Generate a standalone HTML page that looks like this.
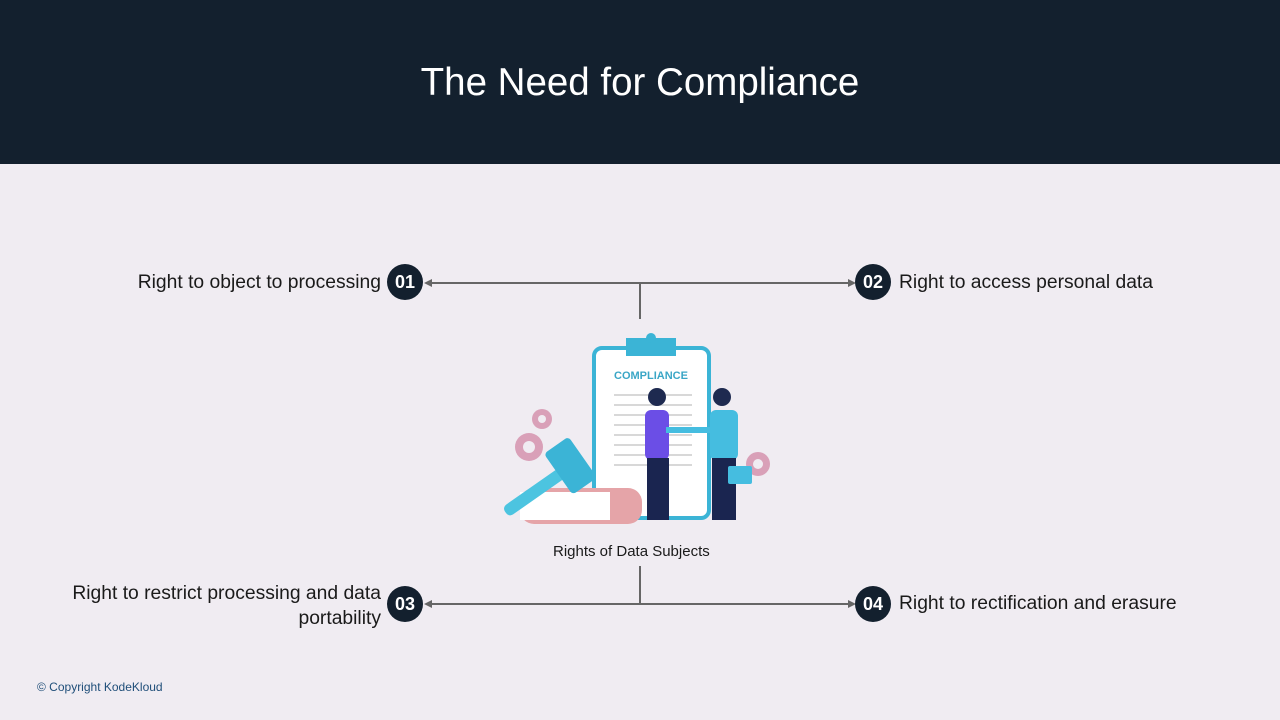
<!DOCTYPE html>
<html><head><meta charset="utf-8"><style>
body{margin:0;width:1280px;height:720px;background:#f0ecf2;font-family:"Liberation Sans",sans-serif;position:relative;overflow:hidden}
.hdr{position:absolute;left:0;top:0;width:1280px;height:164px;background:#13202e}
.hdr h1{margin:0;position:absolute;top:61px;width:100%;text-align:center;color:#fff;font-weight:normal;font-size:38.5px}
.t{position:absolute;font-size:19.3px;color:#1a1a1a}
.c{position:absolute;width:36px;height:36px;border-radius:50%;background:#13202e;color:#fff;font-weight:bold;font-size:18px;text-align:center;line-height:36px}
</style></head><body>
<div class="hdr"><h1>The Need for Compliance</h1></div>
<svg width="1280" height="720" style="position:absolute;left:0;top:0">
<g stroke="#666" stroke-width="2" fill="none">
<line x1="428" y1="283" x2="852" y2="283"/><line x1="640" y1="283" x2="640" y2="319"/>
<line x1="428" y1="604" x2="852" y2="604"/><line x1="640" y1="566" x2="640" y2="604"/>
</g>
<g fill="#666">
<polygon points="424,283 432,279 432,287"/><polygon points="856,283 848,279 848,287"/>
<polygon points="424,604 432,600 432,608"/><polygon points="856,604 848,600 848,608"/>
</g>
<rect x="594" y="348" width="115" height="170" rx="8" fill="#fff" stroke="#3bb4d6" stroke-width="4"/>
<rect x="626" y="338" width="50" height="18" fill="#3bb4d6"/>
<circle cx="651" cy="338" r="5" fill="#3bb4d6"/>
<text x="651" y="379" text-anchor="middle" font-family="Liberation Sans" font-weight="bold" font-size="11" fill="#3aa6c6">COMPLIANCE</text>
<g stroke="#ccc" stroke-width="1.5"><line x1="614" y1="395" x2="692" y2="395"/><line x1="614" y1="405" x2="692" y2="405"/><line x1="614" y1="415" x2="692" y2="415"/><line x1="614" y1="425" x2="692" y2="425"/><line x1="614" y1="435" x2="692" y2="435"/><line x1="614" y1="445" x2="692" y2="445"/><line x1="614" y1="455" x2="692" y2="455"/><line x1="614" y1="465" x2="692" y2="465"/></g>
<rect x="520" y="488" width="122" height="36" rx="14" fill="#e5a4a8"/>
<rect x="520" y="492" width="90" height="28" fill="#fff"/>
<g transform="rotate(-35 550 480)"><rect x="495" y="475" width="90" height="12" rx="5" fill="#4cc4e0"/><rect x="560" y="455" width="30" height="50" rx="4" fill="#3bb4d6"/></g>
<g fill="#d9a0b8"><circle cx="542" cy="419" r="10"/><circle cx="529" cy="447" r="14"/><circle cx="758" cy="464" r="12"/></g>
<g fill="#f0ecf2"><circle cx="542" cy="419" r="4"/><circle cx="529" cy="447" r="6"/><circle cx="758" cy="464" r="5"/></g>
<circle cx="657" cy="397" r="9" fill="#1e2a50"/><rect x="645" y="410" width="24" height="50" rx="6" fill="#6b4ee6"/>
<rect x="647" y="458" width="22" height="62" fill="#1a2550"/>
<circle cx="722" cy="397" r="9" fill="#1e2a50"/><rect x="710" y="410" width="28" height="50" rx="6" fill="#45bde0"/>
<rect x="712" y="458" width="24" height="62" fill="#1a2550"/>
<rect x="728" y="466" width="24" height="18" rx="2" fill="#45bde0"/>
<line x1="666" y1="430" x2="712" y2="430" stroke="#45bde0" stroke-width="6"/>
</svg>
<div class="t" style="right:899px;top:272px">Right to object to processing</div>
<div class="c" style="left:387px;top:264px">01</div>
<div class="c" style="left:855px;top:264px">02</div>
<div class="t" style="left:899px;top:272px">Right to access personal data</div>
<div class="t" style="left:553px;top:543px;font-size:15px">Rights of Data Subjects</div>
<div class="t" style="right:899px;top:581px;text-align:right;line-height:25px">Right to restrict processing and data<br>portability</div>
<div class="c" style="left:387px;top:586px">03</div>
<div class="c" style="left:855px;top:586px">04</div>
<div class="t" style="left:899px;top:593px">Right to rectification and erasure</div>
<div class="t" style="left:37px;top:680px;font-size:12px;color:#1f4e79">© Copyright KodeKloud</div>
</body></html>
